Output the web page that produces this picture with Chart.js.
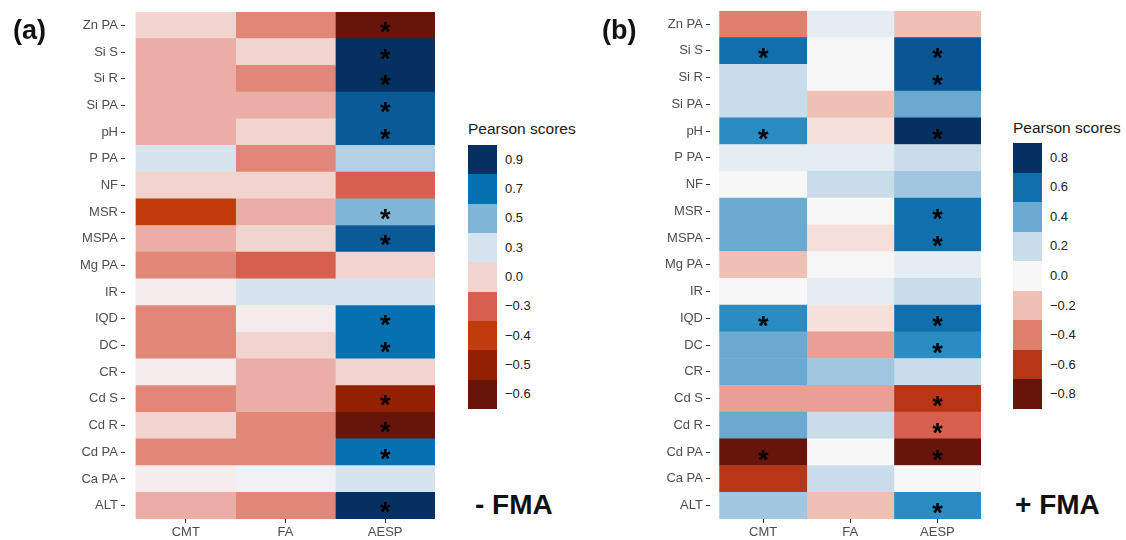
<!DOCTYPE html>
<html>
<head>
<meta charset="utf-8">
<script src="https://cdn.jsdelivr.net/npm/chart.js@4.4.1/dist/chart.umd.min.js"></script>
<style>
  body { margin: 0; background: #fff; font-family: "Liberation Sans", Arial, sans-serif; }
  #page { position: relative; width: 1126px; height: 540px; overflow: hidden; background: #fff; }
  canvas { position: absolute; top: 0; }
  .tag { position: absolute; font-weight: bold; font-size: 27px; line-height: 27px; color: #111; }
  .fma { position: absolute; font-weight: bold; font-size: 28px; line-height: 28px; color: #111; white-space: pre; }
  .legend-title { position: absolute; font-size: 15.5px; line-height: 16px; color: #1a1a1a; white-space: nowrap; }
  .swatch { position: absolute; width: 29px; }
  .legend-label { position: absolute; font-size: 13px; line-height: 14px; color: #222; }
</style>
</head>
<body>
<div id="page">
  <canvas id="chartA" width="440" height="540" style="left:0"></canvas>
  <canvas id="chartB" width="400" height="540" style="left:590px"></canvas>
  <div class="tag" style="left:13px; top:17px">(a)</div>
  <div class="tag" style="left:602px; top:17px">(b)</div>
  <div class="fma" style="left:475px; top:491px">- FMA</div>
  <div class="fma" style="left:1015px; top:491px">+ FMA</div>
  <div id="legendA"></div>
  <div id="legendB"></div>
</div>
<script>
// rows top to bottom, columns left to right
const rowLabels = ["Zn PA", "Si S", "Si R", "Si PA", "pH", "P PA", "NF", "MSR", "MSPA", "Mg PA",
  "IR", "IQD", "DC", "CR", "Cd S", "Cd R", "Cd PA", "Ca PA", "ALT"];
const colLabels = ["CMT", "FA", "AESP"];

// (a) - FMA : Pearson scores
const aCMT  = [0.0, -0.1, -0.1, -0.1, -0.1, 0.3, 0.0, -0.4, -0.1, -0.2, 0.1, -0.2, -0.2, 0.1, -0.2, 0.0, -0.2, 0.1, -0.1];
const aFA   = [-0.2, 0.0, -0.2, -0.1, 0.0, -0.2, 0.0, -0.1, 0.0, -0.3, 0.3, 0.1, 0.0, -0.1, -0.1, -0.2, -0.2, 0.2, -0.2];
const aAESP = [-0.6, 0.9, 0.9, 0.8, 0.8, 0.4, -0.3, 0.5, 0.8, 0.0, 0.3, 0.7, 0.7, 0.0, -0.5, -0.6, 0.7, 0.3, 0.9];
const aSigCMT  = [0, 0, 0, 0, 0, 0, 0, 0, 0, 0, 0, 0, 0, 0, 0, 0, 0, 0, 0];
const aSigFA   = [0, 0, 0, 0, 0, 0, 0, 0, 0, 0, 0, 0, 0, 0, 0, 0, 0, 0, 0];
const aSigAESP = [1, 1, 1, 1, 1, 0, 0, 1, 1, 0, 0, 1, 1, 0, 1, 1, 1, 0, 1];

// (b) + FMA : Pearson scores
const bCMT  = [-0.4, 0.6, 0.2, 0.2, 0.5, 0.1, 0.0, 0.4, 0.4, -0.2, 0.0, 0.5, 0.4, 0.4, -0.3, 0.4, -0.8, -0.6, 0.3];
const bFA   = [0.1, 0.0, 0.0, -0.2, -0.1, 0.1, 0.2, 0.0, -0.1, 0.0, 0.1, -0.1, -0.3, 0.3, -0.3, 0.2, 0.0, 0.2, -0.2];
const bAESP = [-0.2, 0.7, 0.7, 0.4, 0.8, 0.2, 0.3, 0.6, 0.6, 0.1, 0.2, 0.6, 0.5, 0.2, -0.6, -0.5, -0.8, 0.0, 0.5];
const bSigCMT  = [0, 1, 0, 0, 1, 0, 0, 0, 0, 0, 0, 1, 0, 0, 0, 0, 1, 0, 0];
const bSigFA   = [0, 0, 0, 0, 0, 0, 0, 0, 0, 0, 0, 0, 0, 0, 0, 0, 0, 0, 0];
const bSigAESP = [0, 1, 1, 0, 1, 0, 0, 1, 1, 0, 0, 1, 1, 0, 1, 1, 1, 0, 1];

// legend breaks
const legendAValues = [0.9, 0.7, 0.5, 0.3, 0.0, -0.3, -0.4, -0.5, -0.6];
const legendBValues = [0.8, 0.6, 0.4, 0.2, 0.0, -0.2, -0.4, -0.6, -0.8];

// colour scales (value -> colour stops)
const stopsA = [
  [-0.6, "#67140a"], [-0.5, "#932000"], [-0.4, "#c03c0c"], [-0.3, "#d6604d"], [-0.2, "#e0877a"],
  [-0.1, "#ebaea6"], [0.0, "#f2d4cf"], [0.1, "#f5ecec"], [0.2, "#eef2f6"], [0.3, "#d6e4ef"],
  [0.4, "#b3d1e4"], [0.5, "#7fb6d6"], [0.7, "#0571b0"], [0.8, "#0a5a96"], [0.9, "#053061"]
];
const stopsB = [
  [-0.8, "#67140a"], [-0.6, "#b83618"], [-0.5, "#d6604d"], [-0.4, "#e0806c"], [-0.3, "#e8a096"],
  [-0.2, "#efc1b5"], [-0.1, "#f5e0dc"], [0.0, "#f7f7f7"], [0.1, "#e4ecf4"], [0.2, "#c8dcea"],
  [0.3, "#a0c6e0"], [0.4, "#6aaad0"], [0.5, "#2a8cc0"], [0.6, "#1170ac"], [0.7, "#0a5592"], [0.8, "#053061"]
];

function rgb(h) {
  return [1, 3, 5].map((i) => parseInt(h.slice(i, i + 2), 16));
}

function scaleColor(stops, v) {
  if (v <= stops[0][0]) return stops[0][1];
  for (let i = 1; i < stops.length; i++) {
    const [v1, c1] = stops[i];
    if (v <= v1) {
      const [v0, c0] = stops[i - 1];
      const t = (v - v0) / (v1 - v0);
      const a = rgb(c0), b = rgb(c1);
      const m = a.map((x, k) => Math.round(x + (b[k] - x) * t));
      return `rgb(${m[0]},${m[1]},${m[2]})`;
    }
  }
  return stops[stops.length - 1][1];
}

function starPlugin(sig, dy) {
  return {
    id: "stars",
    afterDatasetsDraw(chart) {
      const { ctx, scales } = chart;
      ctx.save();
      ctx.fillStyle = "#000";
      ctx.font = 'bold 27px "Liberation Sans", Arial, sans-serif';
      ctx.textAlign = "center";
      ctx.textBaseline = "alphabetic";
      const m = ctx.measureText("*");
      const shift = (m.actualBoundingBoxAscent - m.actualBoundingBoxDescent) / 2;
      sig.forEach((col, c) => {
        col.forEach((s, r) => {
          if (!s) return;
          ctx.fillText("*", scales.x.getPixelForValue(c + 0.5), scales.y.getPixelForValue(r) + shift + dy);
        });
      });
      ctx.restore();
    },
  };
}

function makeHeatmap(id, cols, sig, stops, geo) {
  const tickColor = "#333";
  return new Chart(document.getElementById(id), {
    type: "bar",
    data: {
      labels: rowLabels,
      datasets: cols.map((vals, c) => ({
        label: colLabels[c],
        data: vals.map(() => [c, c + 1]),
        backgroundColor: vals.map((v) => scaleColor(stops, v)),
        borderWidth: 0,
        grouped: false,
        barPercentage: 1,
        categoryPercentage: 1,
      })),
    },
    options: {
      indexAxis: "y",
      responsive: false,
      animation: false,
      events: [],
      layout: { padding: { left: 0, right: geo.right, top: geo.top, bottom: 0 } },
      plugins: { legend: { display: false }, tooltip: { enabled: false } },
      scales: {
        x: {
          type: "linear",
          min: -0.11,
          max: 3,
          afterBuildTicks: (s) => {
            s.ticks = colLabels.map((_, i) => ({ value: i + 0.5 }));
          },
          afterFit: (s) => {
            s.height = 21;
          },
          ticks: {
            autoSkip: false,
            padding: 2,
            color: "#4d4d4d",
            font: { size: 13, family: "Liberation Sans" },
            callback: (v) => colLabels[Math.round(v - 0.5)],
          },
          grid: { drawOnChartArea: false, drawTicks: true, tickLength: 4, color: tickColor },
          border: { display: false },
        },
        y: {
          type: "category",
          offset: true,
          afterFit: (s) => {
            s.width = geo.yWidth;
          },
          ticks: {
            autoSkip: false,
            padding: 3,
            color: "#4d4d4d",
            font: { size: 13, family: "Liberation Sans" },
          },
          grid: { drawOnChartArea: false, drawTicks: true, tickLength: 4, offset: false, color: tickColor },
          border: { display: false },
        },
      },
    },
    plugins: [starPlugin(sig, geo.starDy)],
  });
}

function buildLegend(id, values, stops, geo) {
  const el = document.getElementById(id);
  let html = `<div class="legend-title" style="left:${geo.left}px; top:${geo.titleTop}px">Pearson scores</div>`;
  values.forEach((v, i) => {
    const top = geo.top + i * geo.step;
    const txt = v < 0 ? "\u2212" + Math.abs(v).toFixed(1) : v.toFixed(1);
    html += `<div class="swatch" style="left:${geo.left}px; top:${top}px; height:${geo.step + 0.4}px; background:${scaleColor(stops, v)}"></div>`;
    html += `<div class="legend-label" style="left:${geo.left + 37}px; top:${top + geo.step / 2 - 7}px">${txt}</div>`;
  });
  el.innerHTML = html;
}

makeHeatmap("chartA", [aCMT, aFA, aAESP], [aSigCMT, aSigFA, aSigAESP], stopsA,
  { right: 5, top: 12, yWidth: 125, starDy: 2 });
makeHeatmap("chartB", [bCMT, bFA, bAESP], [bSigCMT, bSigFA, bSigAESP], stopsB,
  { right: 9, top: 9, yWidth: 120, starDy: 3 });

buildLegend("legendA", legendAValues, stopsA, { left: 468, titleTop: 121, top: 145, step: 29.33 });
buildLegend("legendB", legendBValues, stopsB, { left: 1013, titleTop: 120, top: 143, step: 29.55 });
</script>
</body>
</html>
